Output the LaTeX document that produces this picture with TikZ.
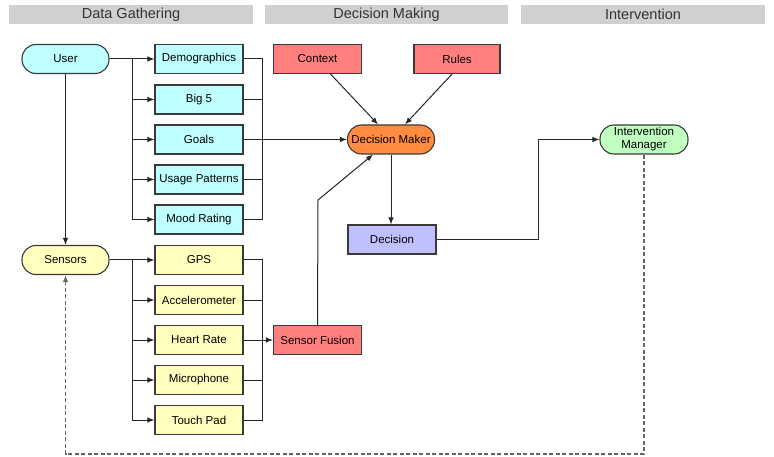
\documentclass[tikz,border=0pt]{standalone}
\usepackage{fontspec}
\setmainfont{Liberation Sans}
\usetikzlibrary{arrows.meta,calc}
\definecolor{hdr}{HTML}{D0D0D0}
\definecolor{cyanf}{HTML}{BFFFFF}
\definecolor{yelf}{HTML}{FFFFC0}
\definecolor{redf}{HTML}{FF7F7F}
\definecolor{orf}{HTML}{FF8C40}
\definecolor{bluf}{HTML}{C0C0FF}
\definecolor{grnf}{HTML}{C0FFC0}
\definecolor{edge}{HTML}{3A3A3A}
\begin{document}
\begin{tikzpicture}[x=1pt,y=-1pt,
  hdrbox/.style={fill=hdr,draw=none,minimum width=244pt,minimum height=19pt,inner sep=0pt,font=\fontsize{14.5}{16}\selectfont,text=black!80},
  box/.style={draw=edge,line width=1.1pt,minimum width=88pt,minimum height=29pt,inner sep=0pt,font=\fontsize{11.5}{13}\selectfont,align=center},
  pill/.style={box,rounded corners=14pt,minimum width=87pt},
  arr/.style={draw=black!85,line width=1pt,-{Latex[length=7pt,width=5.5pt]}},
  ln/.style={draw=black!85,line width=1pt},
  dsh/.style={draw=black!60,line width=1.2pt,dashed,dash pattern=on 4pt off 2.5pt,-{Latex[length=7pt,width=5.5pt]}}
]
\useasboundingbox (0,0) rectangle (774,457);
% headers
\node[hdrbox] (h1) at (131,14.5) {Data Gathering};
\node[hdrbox,minimum width=243pt] (h2) at (386.5,14.5) {Decision Making};
\node[hdrbox] (h3) at (643,14.5) {Intervention};
% user side
\node[pill,fill=cyanf] (user) at (65.5,59) {User};
\node[box,fill=cyanf] (demo) at (199,59) {Demographics};
\node[box,fill=cyanf] (big5) at (199,99.5) {Big 5};
\node[box,fill=cyanf] (goals) at (199,139.5) {Goals};
\node[box,fill=cyanf] (usage) at (199,179.5) {Usage Patterns};
\node[box,fill=cyanf] (mood) at (199,219.5) {Mood Rating};
% sensors side
\node[pill,fill=yelf] (sens) at (65.5,260) {Sensors};
\node[box,fill=yelf] (gps) at (199,260) {GPS};
\node[box,fill=yelf] (acc) at (199,300) {Accelerometer};
\node[box,fill=yelf] (heart) at (199,340) {Heart Rate};
\node[box,fill=yelf] (mic) at (199,380) {Microphone};
\node[box,fill=yelf] (touch) at (199,420) {Touch Pad};
% decision making
\node[box,fill=redf] (ctx) at (317.5,59) {Context};
\node[box,fill=redf,minimum width=86pt] (rules) at (457,59) {Rules};
\node[pill,fill=orf] (dm) at (391,139.5) {Decision Maker};
\node[box,fill=bluf] (dec) at (392,239.5) {Decision};
\node[box,fill=redf] (sf) at (317.5,340) {Sensor Fusion};
\node[pill,fill=grnf,minimum width=88pt,text width=80pt,font=\fontsize{11.5}{13}\selectfont] (im) at (644,139.5) {Intervention\\Manager};
% coordinates
\coordinate (ub) at (132,59);
\coordinate (um) at (262,59);
\coordinate (sb) at (132,260);
\coordinate (sm) at (262,260);
\coordinate (sfk) at (318,200);
\coordinate (dk) at (538,239.5);
\coordinate (fb) at (644,454);
% user branches
\draw[arr] (user.east) -- (demo.west);
\draw[ln] (ub) -- (ub |- mood);
\draw[arr] (ub |- big5) -- (big5.west);
\draw[arr] (ub |- goals) -- (goals.west);
\draw[arr] (ub |- usage) -- (usage.west);
\draw[arr] (ub |- mood) -- (mood.west);
% user merge
\draw[ln] (demo.east) -- (um) -- (um |- mood) -- (mood.east);
\draw[ln] (big5.east) -- (um |- big5);
\draw[ln] (usage.east) -- (um |- usage);
\draw[arr] (goals.east) -- (dm.west);
% user to sensors
\draw[arr] (user.south) -- (sens.north);
% sensor branches
\draw[arr] (sens.east) -- (gps.west);
\draw[ln] (sb) -- (sb |- touch);
\draw[arr] (sb |- acc) -- (acc.west);
\draw[arr] (sb |- heart) -- (heart.west);
\draw[arr] (sb |- mic) -- (mic.west);
\draw[arr] (sb |- touch) -- (touch.west);
% sensor merge
\draw[ln] (gps.east) -- (sm) -- (sm |- touch) -- (touch.east);
\draw[ln] (acc.east) -- (sm |- acc);
\draw[ln] (mic.east) -- (sm |- mic);
\draw[arr] (heart.east) -- (sf.west);
% decision making
\draw[arr] ($(ctx.south)+(13,0)$) -- ($(dm.north)+(-13,0)$);
\draw[arr] ($(rules.south)+(-5,0)$) -- ($(dm.north)+(14,0)$);
\draw[arr] (sf.north) -- (sfk) -- ($(dm.south)+(-18,0)$);
\draw[arr] (dm.south) -- (dm.south |- dec.north);
\draw[arr] (dec.east) -- (dk) |- (im.west);
% feedback
\draw[dsh] (im.south) -- (fb) -| (sens.south);
\end{tikzpicture}
\end{document}
